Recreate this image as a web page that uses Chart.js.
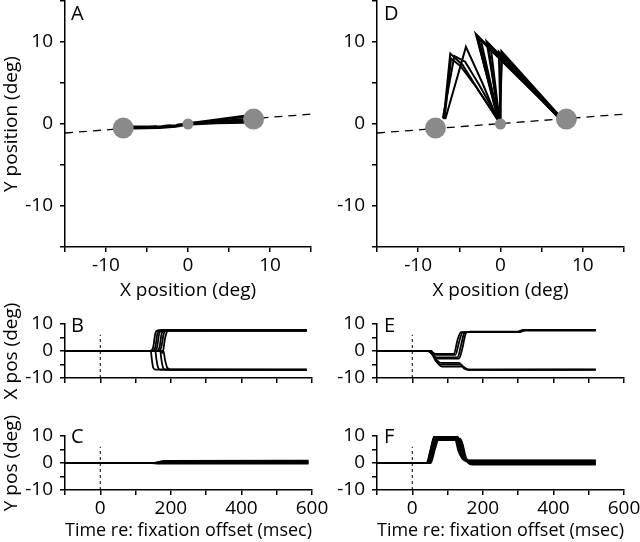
<!DOCTYPE html>
<html>
<head>
<meta charset="utf-8">
<script src="https://cdn.jsdelivr.net/npm/chart.js@4.4.0/dist/chart.umd.min.js"></script>
<style>
  body { margin: 0; background: #fff; }
  #wrap { position: relative; width: 640px; height: 542px; overflow: hidden; }
  canvas { position: absolute; }
</style>
</head>
<body>
<div id="wrap">
  <canvas id="panelA"></canvas>
  <canvas id="panelD"></canvas>
  <canvas id="panelB"></canvas>
  <canvas id="panelE"></canvas>
  <canvas id="panelC"></canvas>
  <canvas id="panelF"></canvas>
</div>
<script>
// targets: left, fixation, right (deg)
const targetX = [-7.9, 0, 8.0];
const targetY = [-0.5, 0, 0.6];
// dashed line through the targets
const meridianX = [-15, 15];
const meridianY = [-1.1, 1.2];
// vertical dashed marker at fixation offset
const offsetT = [0, 0];
const offsetV = [-10, 6];

const posTicks = [-15, -10, -5, 0, 5, 10, 15];
const posLabels = [-10, 0, 10];
const degTicks = [-10, -5, 0, 5, 10];
const degLabels = [-10, 0, 10];
const timeTicks = [-100, 0, 100, 200, 300, 400, 500, 600];
const timeLabels = [0, 200, 400, 600];

// A: eye trajectories [x, y]
const trialsA = [
  [[0, 0.1], [-1.5, -0.15], [-3.5, -0.3], [-6.8, -0.3]],
  [[0, 0], [-1.5, -0.25], [-3.5, -0.4], [-6.8, -0.45]],
  [[0, -0.05], [-1.5, -0.35], [-3.5, -0.5], [-6.8, -0.55]],
  [[0.3, 0.05], [3.5, 0.3], [6.9, 0.6]],
  [[0.3, 0.0], [3.5, 0.2], [6.9, 0.35]],
  [[0.3, 0.1], [3.5, 0.45], [6.9, 0.85]],
  [[0.3, -0.05], [3.5, 0.1], [6.9, 0.15]],
  [[0.3, 0.12], [3.5, 0.55], [6.9, 1.0]],
  [[0.3, 0.02], [3.5, 0.3], [6.9, 0.5]]
];

// D: eye trajectories [x, y]
const trialsD = [
  [[-0.3, 0.5], [-2.8, 4.3], [-4.6, 7.2], [-6.1, 8.6], [-6.9, 0.6]],
  [[-0.4, 0.6], [-3.0, 4.6], [-4.8, 7.0], [-6.0, 8.0], [-6.8, 0.6]],
  [[-0.2, 0.5], [-2.6, 4.8], [-4.3, 7.6], [-5.6, 8.3], [-7.0, 0.7]],
  [[-0.3, 0.4], [-2.2, 5.0], [-4.2, 9.4], [-6.7, 0.6]],
  [[-0.2, 0.4], [-3.0, 11.0], [6.9, 1.0]],
  [[-0.3, 0.5], [-2.9, 10.8], [6.9, 1.1]],
  [[-0.1, 0.4], [-2.7, 10.5], [7.0, 0.9]],
  [[-0.2, 0.5], [-2.4, 10.3], [6.8, 1.2]],
  [[-0.1, 0.5], [-1.7, 10.1], [7.0, 1.1]],
  [[-0.2, 0.4], [-1.5, 9.8], [6.9, 0.9]],
  [[-0.1, 0.3], [-1.2, 9.5], [7.1, 1.0]],
  [[0.0, 0.5], [0.1, 8.9], [7.0, 1.2]],
  [[-0.1, 0.5], [0.2, 8.6], [6.9, 1.0]],
  [[0.0, 0.4], [-0.2, 8.8], [7.0, 0.8]]
];

// B: X position over time [t, x]
const tracesB = [
  [[-100, 0], [142, 0], [150, 1.5], [156, 6.5], [163, 7.6], [585, 7.6]],
  [[-100, 0], [148, 0], [156, 1.5], [162, 6.5], [170, 7.7], [585, 7.7]],
  [[-100, 0], [153, 0], [161, 1.5], [167, 6.5], [175, 7.6], [585, 7.6]],
  [[-100, 0], [160, 0], [168, 1.5], [174, 6.5], [182, 7.7], [585, 7.6]],
  [[-100, 0], [166, 0], [173, 1.5], [180, 6.5], [188, 7.6], [585, 7.7]],
  [[-100, 0], [170, 0], [176, -0.8], [184, 5], [192, 7.6], [585, 7.6]],
  [[-100, 0], [143, 0], [146, -3], [150, -6.2], [156, -6.9], [585, -6.9]],
  [[-100, 0], [156, 0], [159, -3], [164, -6.2], [170, -6.9], [585, -7.0]],
  [[-100, 0], [170, 0], [173, -3], [178, -6.2], [184, -6.9], [585, -6.9]],
  [[-100, 0], [179, 0], [183, -3], [190, -6.2], [198, -6.9], [585, -6.9]]
];

// C: Y position over time [t, y]
const tracesC = [
  [[-100, 0], [150, 0], [170, 0.5], [590, 0.6]],
  [[-100, 0], [160, 0], [180, 0.8], [590, 0.9]],
  [[-100, 0], [145, 0], [165, -0.2], [590, -0.2]],
  [[-100, 0], [170, 0], [190, 0.3], [590, 0.3]],
  [[-100, 0], [155, 0], [175, 0.1], [590, 0.1]]
];

// E: X position over time [t, x]
const tracesE = [
  [[-100, 0], [44, 0], [58, -1], [68, -1.4], [122, -1.4], [132, 3], [142, 6.8], [155, 7.0], [298, 7.0], [312, 7.7], [520, 7.7]],
  [[-100, 0], [46, 0], [62, -2], [72, -2.4], [128, -2.4], [138, 2], [148, 6.8], [160, 7.1], [300, 7.1], [318, 7.8], [520, 7.8]],
  [[-100, 0], [48, 0], [64, -2.4], [74, -2.8], [132, -2.8], [142, 1], [152, 6.6], [165, 7.2], [306, 7.2], [320, 7.6], [520, 7.6]],
  [[-100, 0], [45, 0], [60, -0.8], [70, -1.1], [118, -1.1], [128, 4], [138, 7.0], [304, 7.0], [316, 7.7], [520, 7.7]],
  [[-100, 0], [50, 0], [66, -3.6], [80, -5.0], [136, -5.0], [150, -6.4], [160, -6.9], [520, -6.9]],
  [[-100, 0], [54, 0], [70, -4.2], [86, -5.8], [144, -5.8], [156, -6.9], [166, -7.0], [520, -6.9]],
  [[-100, 0], [52, 0], [68, -3.2], [80, -4.4], [132, -4.4], [148, -6.6], [158, -6.9], [520, -6.9]]
];

// F: Y position over time [t, y]
const tracesF = [
  [[-100, 0], [40, 0], [52, 5], [62, 9.6], [122, 9.6], [136, 4], [150, 0.9], [160, 0.9], [520, 0.9]],
  [[-100, 0], [44, 0], [56, 5], [66, 9.2], [127, 9.2], [141, 3], [156, 0.5], [166, 0.5], [520, 0.5]],
  [[-100, 0], [48, 0], [60, 5], [70, 8.8], [132, 8.8], [146, 3], [162, -0.2], [172, -0.3], [520, -0.3]],
  [[-100, 0], [42, 0], [54, 6], [63, 10.1], [118, 10.1], [132, 4], [148, 1], [158, 1.0], [520, 1.0]],
  [[-100, 0], [50, 0], [62, 6], [72, 9.0], [136, 9.0], [150, 2], [166, -0.5], [176, -0.6], [520, -0.6]],
  [[-100, 0], [46, 0], [58, 5], [68, 9.8], [128, 9.8], [142, 4], [158, 0.3], [168, 0.2], [520, 0.2]],
  [[-100, 0], [52, 0], [64, 5], [74, 8.5], [138, 8.5], [152, 2], [168, 0.1], [178, 0.0], [520, 0.0]]
];

Chart.defaults.font.family = "'Open Sans', sans-serif";
Chart.defaults.font.size = 19;
Chart.defaults.color = '#000';

const letterPlugin = {
  id: 'panelLetter',
  afterDraw(chart, args, opts) {
    const ctx = chart.ctx;
    ctx.save();
    ctx.font = "20px 'Open Sans'";
    ctx.fillStyle = '#000';
    ctx.textBaseline = 'alphabetic';
    ctx.fillText(opts.text, chart.chartArea.left + opts.dx, chart.chartArea.top + opts.dy);
    ctx.restore();
  }
};

function pts(arr) {
  return arr.map(p => ({ x: p[0], y: p[1] }));
}

function lineSet(arr, w, smooth) {
  return {
    data: pts(arr), showLine: true, borderColor: '#000', borderWidth: w,
    pointRadius: 0, fill: false,
    cubicInterpolationMode: smooth ? 'monotone' : 'default', tension: 0
  };
}

function dashSet(xs, ys, dash, w) {
  return {
    data: xs.map((x, i) => ({ x: x, y: ys[i] })), showLine: true,
    borderColor: '#000', borderWidth: w, borderDash: dash, pointRadius: 0
  };
}

function targetSet() {
  return {
    data: targetX.map((x, i) => ({ x: x, y: targetY[i] })),
    showLine: false, pointRadius: [10.5, 5.5, 10.5],
    backgroundColor: '#8a8a8a', borderWidth: 0
  };
}

function scaleOpts(s, dir, size) {
  return {
    type: 'linear',
    position: dir === 'x' ? 'bottom' : 'left',
    min: s.min, max: s.max,
    afterBuildTicks: sc => { sc.ticks = s.ticks.map(v => ({ value: v })); },
    afterFit: sc => {
      if (dir === 'x') { sc.height = size; sc.paddingLeft = 0; sc.paddingRight = 0; }
      else { sc.width = size; sc.paddingTop = 0; sc.paddingBottom = 0; }
    },
    grid: { drawOnChartArea: false, drawTicks: true, tickLength: 5, color: '#000', lineWidth: 1.5 },
    border: { display: true, color: '#000', width: 1.5 },
    ticks: {
      autoSkip: false, maxRotation: 0, minRotation: 0,
      padding: dir === 'x' ? 2 : 7,
      callback: v => s.labels.includes(v) ? String(v) : ''
    },
    title: s.title ? { display: true, text: s.title, padding: 0 } : { display: false }
  };
}

// box: canvas [left, top, width, height]; area: plot [left, top, right, bottom] in page px
function panel(id, box, area, xs, ys, datasets, letter) {
  const el = document.getElementById(id);
  el.style.left = box[0] + 'px';
  el.style.top = box[1] + 'px';
  el.width = box[2];
  el.height = box[3];
  const yWidth = area[0] - box[0];
  const xHeight = box[1] + box[3] - area[3];
  return new Chart(el, {
    type: 'scatter',
    data: { datasets: datasets },
    options: {
      responsive: false, animation: false, devicePixelRatio: 1,
      layout: {
        autoPadding: false,
        padding: { left: 0, top: area[1] - box[1], right: box[0] + box[2] - area[2], bottom: 0 }
      },
      plugins: { legend: { display: false }, tooltip: { enabled: false }, panelLetter: letter },
      scales: { x: scaleOpts(xs, 'x', xHeight), y: scaleOpts(ys, 'y', yWidth) }
    },
    plugins: [letterPlugin]
  });
}

const posX = { min: -15, max: 15, ticks: posTicks, labels: posLabels, title: 'X position (deg)' };
const posYA = { min: -15, max: 15, ticks: posTicks, labels: posLabels, title: 'Y position (deg)' };
const posYD = { min: -15, max: 15, ticks: posTicks, labels: posLabels };
const timeNoLab = { min: -100, max: 600, ticks: timeTicks, labels: [] };
const timeLab = { min: -100, max: 600, ticks: timeTicks, labels: timeLabels, title: 'Time re: fixation offset (msec)' };
const degB = { min: -10, max: 10, ticks: degTicks, labels: degLabels, title: 'X pos (deg)' };
const degC = { min: -10, max: 10, ticks: degTicks, labels: degLabels, title: 'Y pos (deg)' };
const degR = { min: -10, max: 10, ticks: degTicks, labels: degLabels };

function spatial(trials) {
  return [targetSet(), dashSet(meridianX, meridianY, [8, 6], 1.3)]
    .concat(trials.map(t => lineSet(t, 2, false)));
}

function temporal(traces) {
  return [dashSet(offsetT, offsetV, [3, 3], 1)]
    .concat(traces.map(t => lineSet(t, 1.8, true)));
}

panel('panelA', [0, 0, 320, 302], [65, 1, 311, 247], posX, posYA, spatial(trialsA), { text: 'A', dx: 6, dy: 19 });
panel('panelD', [320, 0, 320, 302], [377, 1, 624, 247], posX, posYD, spatial(trialsD), { text: 'D', dx: 7, dy: 19 });
panel('panelB', [0, 285, 330, 125], [65, 324, 312, 378], timeNoLab, degB, temporal(tracesB), { text: 'B', dx: 6, dy: 8 });
panel('panelE', [320, 285, 320, 125], [377, 324, 624, 378], timeNoLab, degR, temporal(tracesE), { text: 'E', dx: 7, dy: 8 });
panel('panelC', [0, 400, 330, 142], [65, 436, 312, 490], timeLab, degC, temporal(tracesC), { text: 'C', dx: 6, dy: 7 });
panel('panelF', [320, 400, 320, 142], [377, 436, 624, 490], timeLab, degR, temporal(tracesF), { text: 'F', dx: 7, dy: 7 });
</script>
</body>
</html>
